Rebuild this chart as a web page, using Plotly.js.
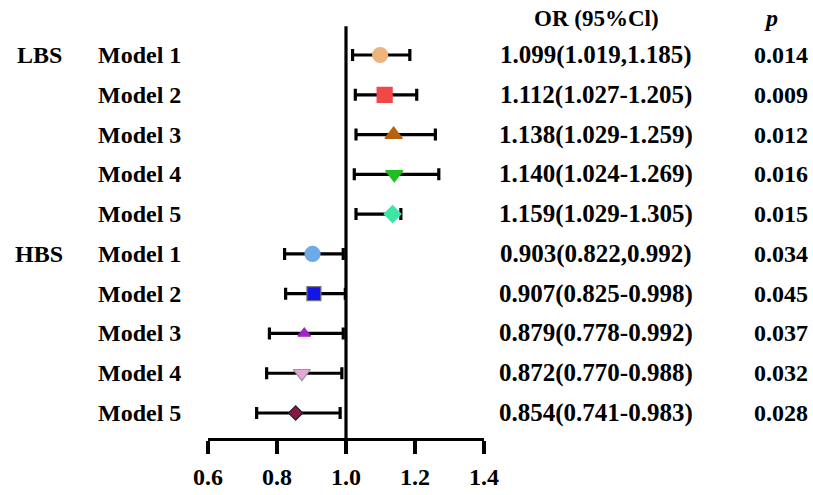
<!DOCTYPE html>
<html><head><meta charset="utf-8">
<script src="https://cdn.plot.ly/plotly-3.0.1.min.js"></script>
<style>html,body{margin:0;padding:0;background:#fff}#c{width:813px;height:495px}</style>
</head><body><div id="c"></div>
<script>
const groups = ["LBS","","","","","HBS","","","",""];
const models = ["Model 1","Model 2","Model 3","Model 4","Model 5","Model 1","Model 2","Model 3","Model 4","Model 5"];
const orPoint = [1.099,1.112,1.138,1.140,1.135,0.903,0.907,0.879,0.872,0.854];
const ciLow  = [1.019,1.027,1.029,1.024,1.029,0.822,0.825,0.778,0.770,0.741];
const ciHigh = [1.185,1.205,1.259,1.269,1.159,0.992,0.998,0.992,0.988,0.983];
const orText = ["1.099(1.019,1.185)","1.112(1.027-1.205)","1.138(1.029-1.259)","1.140(1.024-1.269)","1.159(1.029-1.305)",
                "0.903(0.822,0.992)","0.907(0.825-0.998)","0.879(0.778-0.992)","0.872(0.770-0.988)","0.854(0.741-0.983)"];
const pValues = ["0.014","0.009","0.012","0.016","0.015","0.034","0.045","0.037","0.032","0.028"];
const xTicks = [0.6,0.8,1.0,1.2,1.4];
const xTickLabels = ["0.6","0.8","1.0","1.2","1.4"];

const symbols = ["circle","square","triangle-up","triangle-down","diamond","circle","square","triangle-up","triangle-down","diamond"];
const colors = ["#EDB47E","#F04848","#B5620E","#1FBF1F","#3EE6A6","#6FAAE8","#1414E6","#A424C8","#E6A8DC","#8A1845"];
const lineColors = ["#EDB47E","#F04848","#B5620E","#1FBF1F","#3EE6A6","#6FAAE8","#777777","#A424C8","#999999","#222222"];
const sizes = [15,15,15,15,13,15,14,11,15,11];

const rowY = models.map((m,i)=>10-i);
const W = 813;
const font = "Liberation Serif, Times New Roman, serif";

const trace = {
  x: orPoint, y: rowY, type: "scatter", mode: "markers",
  marker: {symbol: symbols, color: colors, size: sizes, opacity: 1, line: {color: lineColors, width: 1.2}},
  error_x: {type: "data", symmetric: false,
    array: orPoint.map((v,i)=>ciHigh[i]-v),
    arrayminus: orPoint.map((v,i)=>v-ciLow[i]),
    color: "#000", thickness: 3.2, width: 6},
  hoverinfo: "skip", showlegend: false
};

const ann = [];
const fs = 24;
rowY.forEach((y,i)=>{
  if (groups[i]) ann.push({xref:"paper", yref:"y", x:39/W, y:y, text:"<b>"+groups[i]+"</b>", showarrow:false, xanchor:"center", font:{family:font, size:24, color:"#000"}});
  ann.push({xref:"paper", yref:"y", x:96/W, y:y, text:"<b>"+models[i]+"</b>", showarrow:false, xanchor:"left", font:{family:font, size:fs, color:"#000"}});
  ann.push({xref:"paper", yref:"y", x:596/W, y:y, text:"<b>"+orText[i]+"</b>", showarrow:false, xanchor:"center", font:{family:font, size:25, color:"#000"}});
  ann.push({xref:"paper", yref:"y", x:781/W, y:y, text:"<b>"+pValues[i]+"</b>", showarrow:false, xanchor:"center", font:{family:font, size:fs, color:"#000"}});
});
const py = px => (438 - px) / 418;
ann.push({xref:"paper", yref:"paper", x:596/W, y:py(18), text:"<b>OR (95%Cl)</b>", showarrow:false, xanchor:"center", yanchor:"middle", font:{family:font, size:23, color:"#000"}});
ann.push({xref:"paper", yref:"paper", x:771/W, y:py(18), text:"<b><i>p</i></b>", showarrow:false, xanchor:"center", yanchor:"middle", font:{family:font, size:24, color:"#000"}});

const layout = {
  width: 813, height: 495,
  margin: {l:0, r:0, t:20, b:57},
  paper_bgcolor: "#fff", plot_bgcolor: "#fff",
  xaxis: {domain:[208/W, 484/W], range:[0.6,1.4], tickvals:xTicks, ticktext:xTickLabels.map(t=>"<b>"+t+"</b>"),
    showgrid:false, zeroline:false, showline:true, linecolor:"#000", linewidth:3.2,
    ticks:"outside", ticklen:13, tickwidth:3.2, tickcolor:"#000", ticklabelstandoff:2,
    tickfont:{family:font, size:24, color:"#000"}, fixedrange:true},
  yaxis: {range:[0.372, 10.88], showgrid:false, zeroline:false, showline:false, showticklabels:false, ticks:"", fixedrange:true},
  shapes: [{type:"line", xref:"x", yref:"y", x0:1.0, x1:1.0, y0:0.372, y1:10.72, line:{color:"#000", width:3.2}}],
  annotations: ann
};
Plotly.newPlot("c", [trace], layout, {displayModeBar:false, staticPlot:true});
</script></body></html>
